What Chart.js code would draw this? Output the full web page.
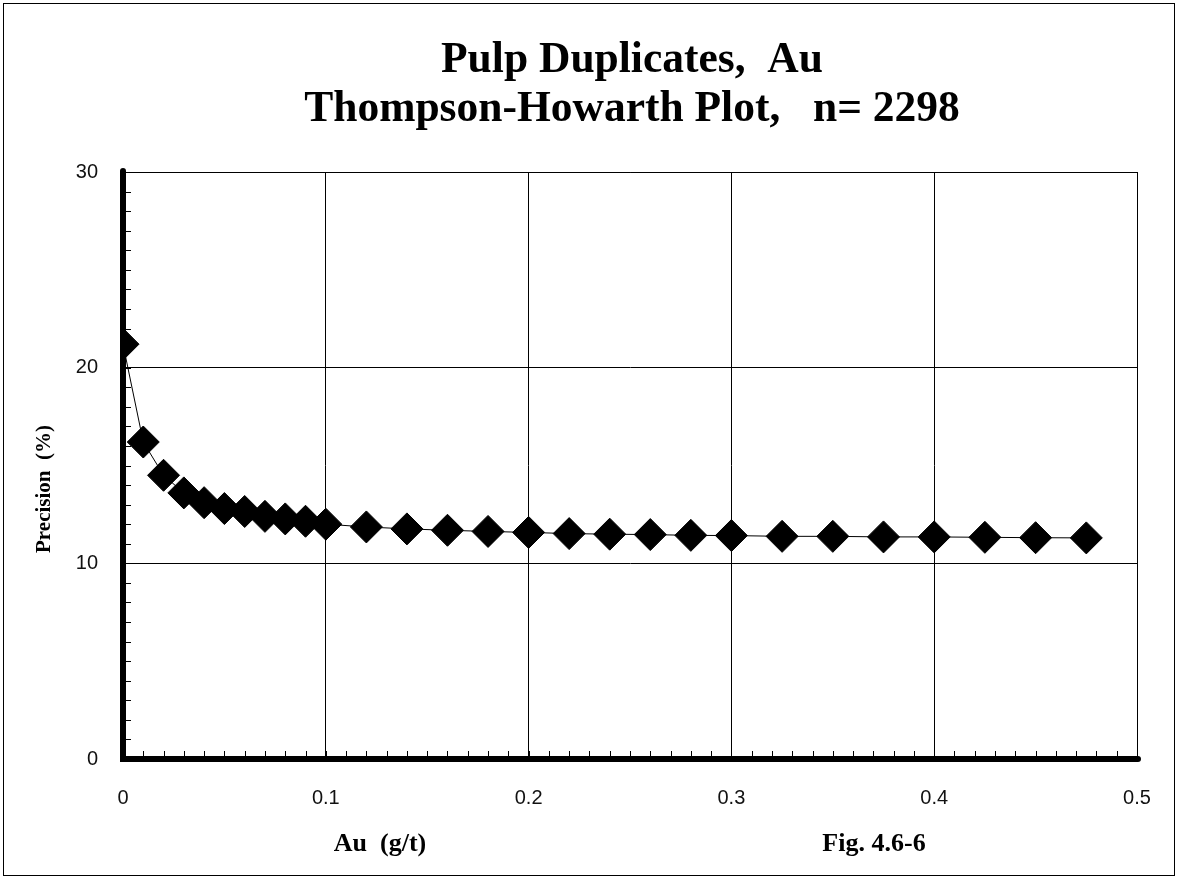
<!DOCTYPE html>
<html>
<head>
<meta charset="utf-8">
<script src="https://cdn.jsdelivr.net/npm/chart.js@4.4.1/dist/chart.umd.min.js"></script>
<style>
  html, body { margin: 0; padding: 0; background: #fff; }
  #wrap { width: 1178px; height: 879px; }
</style>
</head>
<body>
<div id="wrap"><canvas id="myChart" width="1178" height="879"></canvas></div>
<script>
// Thompson-Howarth plot, pulp duplicates Au

// mean Au (g/t)
const auValues = [0, 0.01, 0.02, 0.03, 0.04, 0.05, 0.06, 0.07, 0.08, 0.09, 0.1,
    0.12, 0.14, 0.16, 0.18, 0.2, 0.22, 0.24, 0.26, 0.28, 0.3,
    0.325, 0.35, 0.375, 0.4, 0.425, 0.45, 0.475];
// precision (%)
const precisionValues = [21.2, 16.2, 14.5, 13.6, 13.1, 12.8, 12.65, 12.4, 12.27, 12.15, 12.0,
    11.86, 11.76, 11.69, 11.63, 11.58, 11.52, 11.49, 11.47, 11.43, 11.42,
    11.38, 11.38, 11.35, 11.35, 11.33, 11.31, 11.3];

const titleLines = ['Pulp Duplicates,  Au', 'Thompson-Howarth Plot,   n= 2298'];
const xAxisTitle = 'Au  (g/t)';
const yAxisTitle = 'Precision  (%)';
const figLabel = 'Fig. 4.6-6';

const xTicks = [0, 0.1, 0.2, 0.3, 0.4, 0.5];
const yTicks = [0, 10, 20, 30];

const points = auValues.map((x, i) => ({ x: x, y: precisionValues[i] }));

// frame, titles, thick axes and minor ticks
const decorPlugin = {
    id: 'decor',
    beforeDraw(chart) {
        const ctx = chart.ctx;
        ctx.save();
        ctx.fillStyle = '#fff';
        ctx.fillRect(0, 0, chart.width, chart.height);
        ctx.strokeStyle = '#000';
        ctx.lineWidth = 1;
        ctx.strokeRect(3.5, 3.5, chart.width - 7, chart.height - 7);

        ctx.fillStyle = '#000';
        ctx.textAlign = 'center';
        ctx.textBaseline = 'alphabetic';
        ctx.font = 'bold 43.5px "Liberation Serif", "Times New Roman", serif';
        ctx.fillText(titleLines[0], 632, 72);
        ctx.fillText(titleLines[1], 632, 121);

        ctx.font = 'bold 26px "Liberation Serif", "Times New Roman", serif';
        ctx.fillText(xAxisTitle, 380, 851);
        ctx.fillText(figLabel, 874, 851);

        ctx.font = 'bold 21px "Liberation Serif", "Times New Roman", serif';
        ctx.translate(50, 489);
        ctx.rotate(-Math.PI / 2);
        ctx.fillText(yAxisTitle, 0, 0);
        ctx.restore();
    },
    afterDatasetsDraw(chart) {
        const ctx = chart.ctx;
        const xs = chart.scales.x;
        const ys = chart.scales.y;
        const a = chart.chartArea;
        ctx.save();
        ctx.strokeStyle = '#000';

        // minor ticks inside the plot
        ctx.lineWidth = 1;
        ctx.beginPath();
        for (let v = 1; v < 30; v++) {
            const py = Math.round(ys.getPixelForValue(v)) + 0.5;
            ctx.moveTo(a.left, py);
            ctx.lineTo(a.left + 8, py);
        }
        for (let k = 1; k < 50; k++) {
            const px = Math.round(xs.getPixelForValue(k / 100)) + 0.5;
            ctx.moveTo(px, a.bottom);
            ctx.lineTo(px, a.bottom - 8);
        }
        ctx.stroke();

        // heavy axis lines
        ctx.lineWidth = 6;
        ctx.lineCap = 'round';
        ctx.beginPath();
        ctx.moveTo(a.left, a.top - 1);
        ctx.lineTo(a.left, a.bottom);
        ctx.lineTo(a.right + 1, a.bottom);
        ctx.stroke();
        ctx.restore();
    }
};

window.onload = function() {
    const ctx = document.getElementById('myChart').getContext('2d');
    new Chart(ctx, {
        type: 'scatter',
        data: {
            datasets: [{
                data: points,
                showLine: true,
                borderColor: '#000',
                borderWidth: 1,
                backgroundColor: '#000',
                pointStyle: 'rectRot',
                pointRadius: 16,
                pointBorderWidth: 1,
                pointBorderColor: '#000',
                pointBackgroundColor: '#000',
                clip: { left: 0, top: false, right: false, bottom: false }
            }]
        },
        options: {
            responsive: false,
            animation: false,
            events: [],
            layout: { padding: { left: 0, top: 172, right: 41, bottom: 0 } },
            plugins: {
                legend: { display: false },
                title: { display: false },
                tooltip: { enabled: false }
            },
            scales: {
                x: {
                    type: 'linear',
                    min: 0,
                    max: 0.5,
                    afterFit(scale) { scale.height = 120; },
                    afterBuildTicks(scale) { scale.ticks = xTicks.map(v => ({ value: v })); },
                    grid: { color: '#000', lineWidth: 1, drawTicks: false },
                    border: { display: true, color: '#000', width: 1 },
                    ticks: {
                        padding: 27,
                        color: '#111',
                        font: { family: '"Liberation Sans", Arial, sans-serif', size: 20 },
                        callback: v => String(v)
                    }
                },
                y: {
                    type: 'linear',
                    min: 0,
                    max: 30,
                    afterFit(scale) { scale.width = 123; },
                    afterBuildTicks(scale) { scale.ticks = yTicks.map(v => ({ value: v })); },
                    grid: { color: '#000', lineWidth: 1, drawTicks: false },
                    border: { display: true, color: '#000', width: 1 },
                    ticks: {
                        padding: 25,
                        color: '#111',
                        font: { family: '"Liberation Sans", Arial, sans-serif', size: 20 }
                    }
                },
                x2: {
                    type: 'linear', position: 'top', min: 0, max: 0.5, display: true,
                    afterFit(scale) { scale.height = 0; },
                    grid: { display: false, drawTicks: false },
                    border: { display: true, color: '#000', width: 1 },
                    ticks: { display: false }
                },
                y2: {
                    type: 'linear', position: 'right', min: 0, max: 30, display: true,
                    afterFit(scale) { scale.width = 0; },
                    grid: { display: false, drawTicks: false },
                    border: { display: true, color: '#000', width: 1 },
                    ticks: { display: false }
                }
            }
        },
        plugins: [decorPlugin]
    });
};
</script>
</body>
</html>
